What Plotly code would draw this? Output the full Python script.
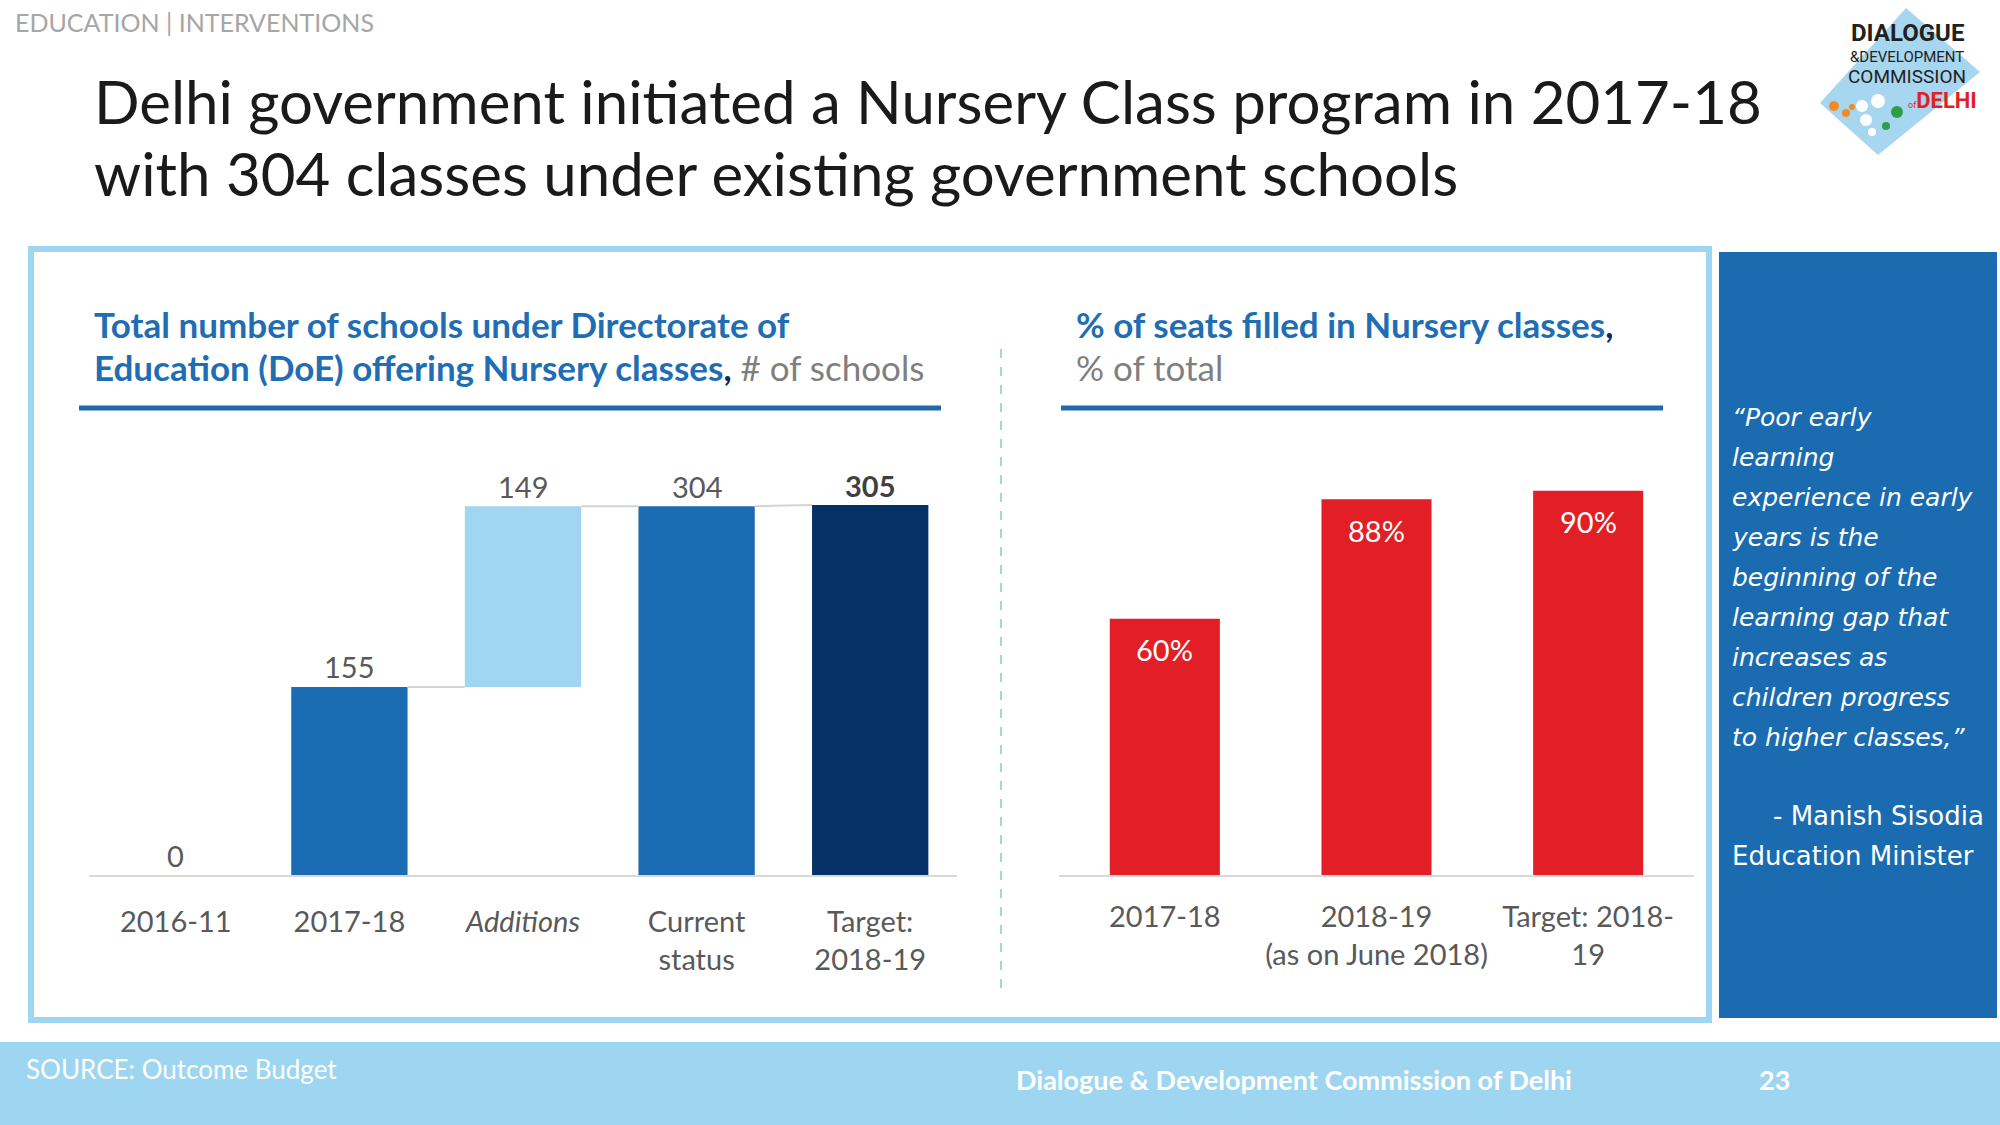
import plotly.graph_objects as go

# ---------------- DATA ----------------
left_categories = ["2016-11", "2017-18", "<i>Additions</i>", "Current<br>status", "Target:<br>2018-19"]
left_values = [0, 155, 149, 304, 305]
left_kind = ["total", "total", "delta", "total", "total"]

right_categories = ["2017-18", "2018-19<br>(as on June 2018)", "Target: 2018-<br>19"]
right_values = [60, 88, 90]

quote_lines = ["\u201cPoor early", "learning", "experience in early", "years is the",
               "beginning of the", "learning gap that", "increases as",
               "children progress", "to higher classes,\u201d"]

# ---------------- STYLE ----------------
W, H = 2000, 1125
FONT = "Lato"
QFONT = "DejaVu Sans"
GRAY = "#595959"
BLUE_T = "#1F6EB4"
LIGHT = "#9ED6F1"
left_colors = ["#1B6DB3", "#1B6DB3", "#A0D6F2", "#1B6DB3", "#053166"]
RED = "#E21F26"
PANEL = "#1A6BB0"


def X(px):
    return px / W


def Y(py):
    return 1 - py / H


fig = go.Figure()

# ----- left waterfall-like bars -----
bases, tops = [], []
prev_top = 0
for v, k in zip(left_values, left_kind):
    b = prev_top if k == "delta" else 0
    bases.append(b)
    tops.append(b + v)
    prev_top = b + v

xs = list(range(len(left_values)))
LW = 0.67
fig.add_trace(go.Bar(x=xs, y=left_values, base=bases, width=LW,
                     marker=dict(color=left_colors, line=dict(width=0)),
                     xaxis="x", yaxis="y", hoverinfo="skip", showlegend=False))

# connectors
for i in range(1, len(left_values) - 1):
    y0 = tops[i]
    y1 = bases[i + 1] if left_kind[i + 1] == "delta" else tops[i + 1]
    fig.add_trace(go.Scatter(x=[i + LW / 2, i + 1 - LW / 2], y=[y0, y1], mode="lines",
                             line=dict(color="#D3D3D3", width=2),
                             xaxis="x", yaxis="y", hoverinfo="skip", showlegend=False))

annotations = []
for i, (v, t) in enumerate(zip(left_values, tops)):
    last = i == len(left_values) - 1
    annotations.append(dict(x=i, y=t, xref="x", yref="y", text=f"<b>{v}</b>" if last else f"{v}",
                            showarrow=False, yshift=20,
                            font=dict(family=FONT, size=29, color="#404040" if last else GRAY)))

# ----- right bars -----
rx = list(range(len(right_values)))
fig.add_trace(go.Bar(x=rx, y=right_values, width=0.52, marker=dict(color=RED, line=dict(width=0)),
                     xaxis="x2", yaxis="y2", hoverinfo="skip", showlegend=False))
for i, v in enumerate(right_values):
    annotations.append(dict(x=i, y=v, xref="x2", yref="y2", text=f"{v}%", showarrow=False,
                            yshift=-31, font=dict(family=FONT, size=29, color="white")))

ydom = [Y(875), Y(430)]
axis_common = dict(showgrid=False, zeroline=False, showline=True, linecolor="#D9D9D9", linewidth=2,
                   ticks="", tickfont=dict(family=FONT, size=29, color=GRAY))
fig.update_layout(
    width=W, height=H, margin=dict(l=0, r=0, t=0, b=0),
    paper_bgcolor="white", plot_bgcolor="rgba(0,0,0,0)",
    xaxis=dict(domain=[X(89), X(957)], range=[-0.5, 4.5], tickmode="array",
               tickvals=xs, ticktext=left_categories, anchor="y", ticklabelstandoff=20, **axis_common),
    yaxis=dict(domain=ydom, range=[0, 445 / 1.213], visible=False, anchor="x"),
    xaxis2=dict(domain=[X(1059), X(1694)], range=[-0.5, 2.5], tickmode="array",
                tickvals=rx, ticktext=right_categories, anchor="y2", ticklabelstandoff=15, **axis_common),
    yaxis2=dict(domain=ydom, range=[0, 445 / 4.27], visible=False, anchor="x2"),
)

# ----- shapes -----
shapes = [
    dict(type="rect", xref="paper", yref="paper", x0=X(31), x1=X(1709), y0=Y(1020), y1=Y(249),
         line=dict(color=LIGHT, width=6), fillcolor="rgba(0,0,0,0)", layer="below"),
    dict(type="rect", xref="paper", yref="paper", x0=X(1719), x1=X(1997), y0=Y(1018), y1=Y(252),
         line=dict(width=0), fillcolor=PANEL, layer="below"),
    dict(type="rect", xref="paper", yref="paper", x0=0, x1=1, y0=0, y1=Y(1042),
         line=dict(width=0), fillcolor=LIGHT, layer="below"),
    dict(type="line", xref="paper", yref="paper", x0=X(1001), x1=X(1001), y0=Y(988), y1=Y(347),
         line=dict(color=LIGHT, width=2, dash="dash")),
    dict(type="line", xref="paper", yref="paper", x0=X(79), x1=X(941), y0=Y(408), y1=Y(408),
         line=dict(color="#1F6BAA", width=5)),
    dict(type="line", xref="paper", yref="paper", x0=X(1061), x1=X(1663), y0=Y(408), y1=Y(408),
         line=dict(color="#1F6BAA", width=5)),
    # logo diamond
    dict(type="path", xref="paper", yref="paper",
         path=f"M {X(1906)} {Y(8)} L {X(1980)} {Y(72)} L {X(1878)} {Y(155)} L {X(1820)} {Y(103)} Z",
         fillcolor="#A7D6F0", line=dict(width=0), layer="below"),
]
for cx, cy, r, col in [(1834, 106, 5, "#F08A24"), (1846, 113, 4, "#F08A24"), (1852, 107, 3, "#F08A24"),
                       (1862, 106, 6, "white"), (1878, 101, 7, "white"), (1866, 120, 6, "white"),
                       (1872, 132, 4, "white"), (1897, 112, 6, "#2E9E48"), (1886, 126, 4, "#2E9E48")]:
    shapes.append(dict(type="circle", xref="paper", yref="paper",
                       x0=X(cx - r), x1=X(cx + r), y0=Y(cy + r), y1=Y(cy - r),
                       fillcolor=col, line=dict(width=0)))
fig.update_layout(shapes=shapes)


def txt(x, y, text, size, color, family=FONT, xanchor="left", yanchor="middle"):
    annotations.append(dict(x=X(x), y=Y(y), xref="paper", yref="paper", text=text, showarrow=False,
                            xanchor=xanchor, yanchor=yanchor, borderpad=0,
                            font=dict(family=family, size=size, color=color)))


# header + title
txt(14, 22, "EDUCATION | INTERVENTIONS", 25, "#A6A6A6")
txt(93, 101, "Delhi government initiated a Nursery Class program in 2017-18", 60, "#1A1A1A")
txt(93, 173, "with 304 classes under existing government schools", 60, "#1A1A1A")

# subtitles
txt(93, 324, "<b>Total number of schools under Directorate of</b>", 35, BLUE_T)
txt(93, 367, "<b>Education (DoE) offering Nursery classes</b><b><span style='color:#0B2D5B'>,</span></b>"
             "<span style='color:#7F7F7F'> # of schools</span>", 35, BLUE_T)
txt(1075, 324, "<b>% of seats filled in Nursery classes</b><b><span style='color:#0B2D5B'>,</span></b>", 35, BLUE_T)
txt(1075, 367, "% of total", 35, "#7F7F7F")

# quote
for i, line in enumerate(quote_lines):
    txt(1731, 417 + i * 40.1, f"<i>{line}</i>", 25, "white", family=QFONT)
txt(1985, 816, "- Manish Sisodia", 26, "white", family=QFONT, xanchor="right")
txt(1731, 856, "Education Minister", 26, "white", family=QFONT)

# footer
txt(25, 1069, "SOURCE: Outcome Budget", 26, "white")
txt(1294, 1079, "<b>Dialogue &amp; Development Commission of Delhi</b>", 27, "white", xanchor="center")
txt(1774, 1079, "<b>23</b>", 27, "white", xanchor="center")

# logo text
txt(1907, 33, "<b>DIALOGUE</b>", 24, "#231F20", family="Roboto", xanchor="center")
txt(1907, 57, "&amp;DEVELOPMENT", 15, "#231F20", family="Roboto", xanchor="center")
txt(1907, 77, "COMMISSION", 19, "#231F20", family="Roboto", xanchor="center")
txt(1942, 100, "<span style='font-size:9px'>of</span><b>DELHI</b>", 22, "#E21F26", family="Roboto", xanchor="center")

fig.update_layout(annotations=annotations)

fig.write_html("out.html", config={"displayModeBar": False},
               post_script="document.body.style.margin='0';")
